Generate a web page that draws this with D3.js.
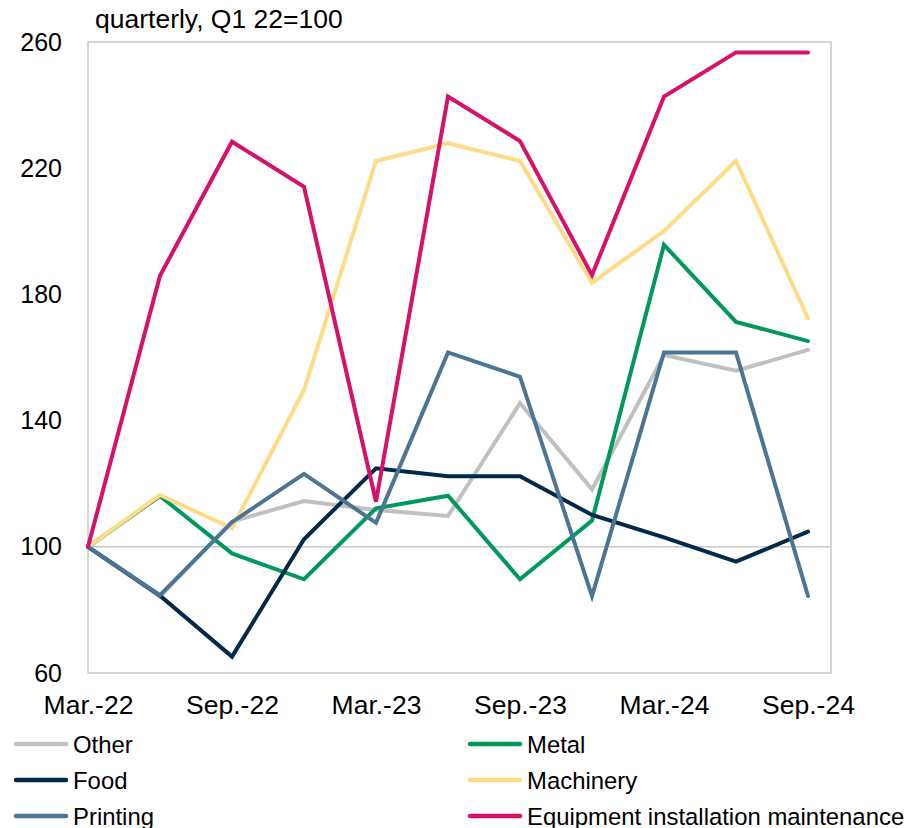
<!DOCTYPE html>
<html>
<head>
<meta charset="utf-8">
<script src="https://cdn.jsdelivr.net/npm/d3@7"></script>
<style>
  html, body { margin: 0; padding: 0; background: #fff; }
  svg { display: block; font-family: "Liberation Sans", Arial, sans-serif; }
</style>
</head>
<body>
<svg id="chart" width="920" height="828"></svg>
<script>
// Quarters, Q1 2022 = 100
const quarters = ["Mar.-22", "Jun.-22", "Sep.-22", "Dec.-22", "Mar.-23", "Jun.-23",
                  "Sep.-23", "Dec.-23", "Mar.-24", "Jun.-24", "Sep.-24"];
const tickQuarters = ["Mar.-22", "Sep.-22", "Mar.-23", "Sep.-23", "Mar.-24", "Sep.-24"];
const yTicks = [60, 100, 140, 180, 220, 260];

const other     = [100, 84.2, 108.0, 114.5, 111.7, 109.8, 145.5, 118.2, 160.8, 155.8, 162.4];
const metal     = [100, 116.1, 97.9, 89.7, 112.2, 116.2, 89.7, 108.3, 195.7, 171.3, 165.2];
const food      = [100, 84.5, 65.2, 102.4, 124.9, 122.4, 122.4, 110.1, 103.0, 95.3, 104.8];
const machinery = [100, 116.4, 105.9, 149.7, 222.3, 227.9, 222.3, 183.7, 200.1, 222.3, 172.4];
const printing  = [100, 84.7, 107.8, 123.1, 107.6, 161.6, 153.9, 84.4, 161.6, 161.6, 84.4];
const equipment = [100, 185.9, 228.4, 214.1, 114.3, 242.7, 228.6, 186.1, 242.7, 256.7, 256.7];

// Series in drawing order (later ones on top); legend fills row by row in two columns
const series = [
  { name: "Other",     values: other,     color: "#c0c0c0" },
  { name: "Metal",     values: metal,     color: "#00985b" },
  { name: "Food",      values: food,      color: "#03294a" },
  { name: "Machinery", values: machinery, color: "#ffdb86" },
  { name: "Printing",  values: printing,  color: "#4a7596" },
  { name: "Equipment installation maintenance", values: equipment, color: "#d5116a" }
];

const svg = d3.select("#chart");
const frame = { left: 88, right: 831, top: 42, bottom: 673 };

const x = d3.scalePoint().domain(quarters).range([88, 808]);
const y = d3.scaleLinear().domain([60, 260]).range([frame.bottom, frame.top]);

const gridColor = "#c9c9c9";
const fontFamily = "'Liberation Sans', Arial, sans-serif";

// Plot frame
svg.append("rect")
  .attr("x", frame.left).attr("y", frame.top)
  .attr("width", frame.right - frame.left).attr("height", frame.bottom - frame.top)
  .attr("fill", "none").attr("stroke", gridColor).attr("stroke-width", 1.5);

// Reference line at 100
svg.append("line")
  .attr("x1", frame.left).attr("x2", frame.right)
  .attr("y1", y(100)).attr("y2", y(100))
  .attr("stroke", gridColor).attr("stroke-width", 1.5);

// Y axis labels
const yAxis = d3.axisLeft(y).tickValues(yTicks).tickSize(0).tickPadding(26);
svg.append("g")
  .attr("transform", `translate(${frame.left},0)`)
  .call(yAxis)
  .call(g => g.select(".domain").remove())
  .call(g => g.selectAll("text")
    .attr("font-size", 25).attr("fill", "#000")
    .attr("font-family", fontFamily));

// X axis labels
const xAxis = d3.axisBottom(x).tickValues(tickQuarters).tickSize(0).tickPadding(22);
svg.append("g")
  .attr("transform", `translate(0,${frame.bottom})`)
  .call(xAxis)
  .call(g => g.select(".domain").remove())
  .call(g => g.selectAll("text")
    .attr("font-size", 26.5).attr("fill", "#000")
    .attr("font-family", fontFamily));

// Unit note
svg.append("text")
  .attr("x", 95).attr("y", 28)
  .attr("font-size", 26.5).attr("fill", "#000")
  .text("quarterly, Q1 22=100");

// Lines
const line = d3.line()
  .x((d, i) => x(quarters[i]))
  .y(d => y(d));

svg.append("g").selectAll("path")
  .data(series)
  .join("path")
  .attr("d", d => line(d.values))
  .attr("fill", "none")
  .attr("stroke", d => d.color)
  .attr("stroke-width", 4)
  .attr("stroke-linejoin", "miter")
  .attr("stroke-linecap", "round");

// Legend
const legend = svg.append("g");
const colX = [14, 468];
const rowY = [744, 780, 816];
const items = legend.selectAll("g")
  .data(series)
  .join("g")
  .attr("transform", (d, i) => `translate(${colX[i % 2]},${rowY[Math.floor(i / 2)]})`);
items.append("line")
  .attr("x1", 2).attr("x2", 52)
  .attr("stroke", d => d.color)
  .attr("stroke-width", 4.5)
  .attr("stroke-linecap", "round");
items.append("text")
  .attr("x", 59).attr("y", 8.5)
  .attr("font-size", 23.9).attr("fill", "#000")
  .text(d => d.name);
</script>
</body>
</html>
